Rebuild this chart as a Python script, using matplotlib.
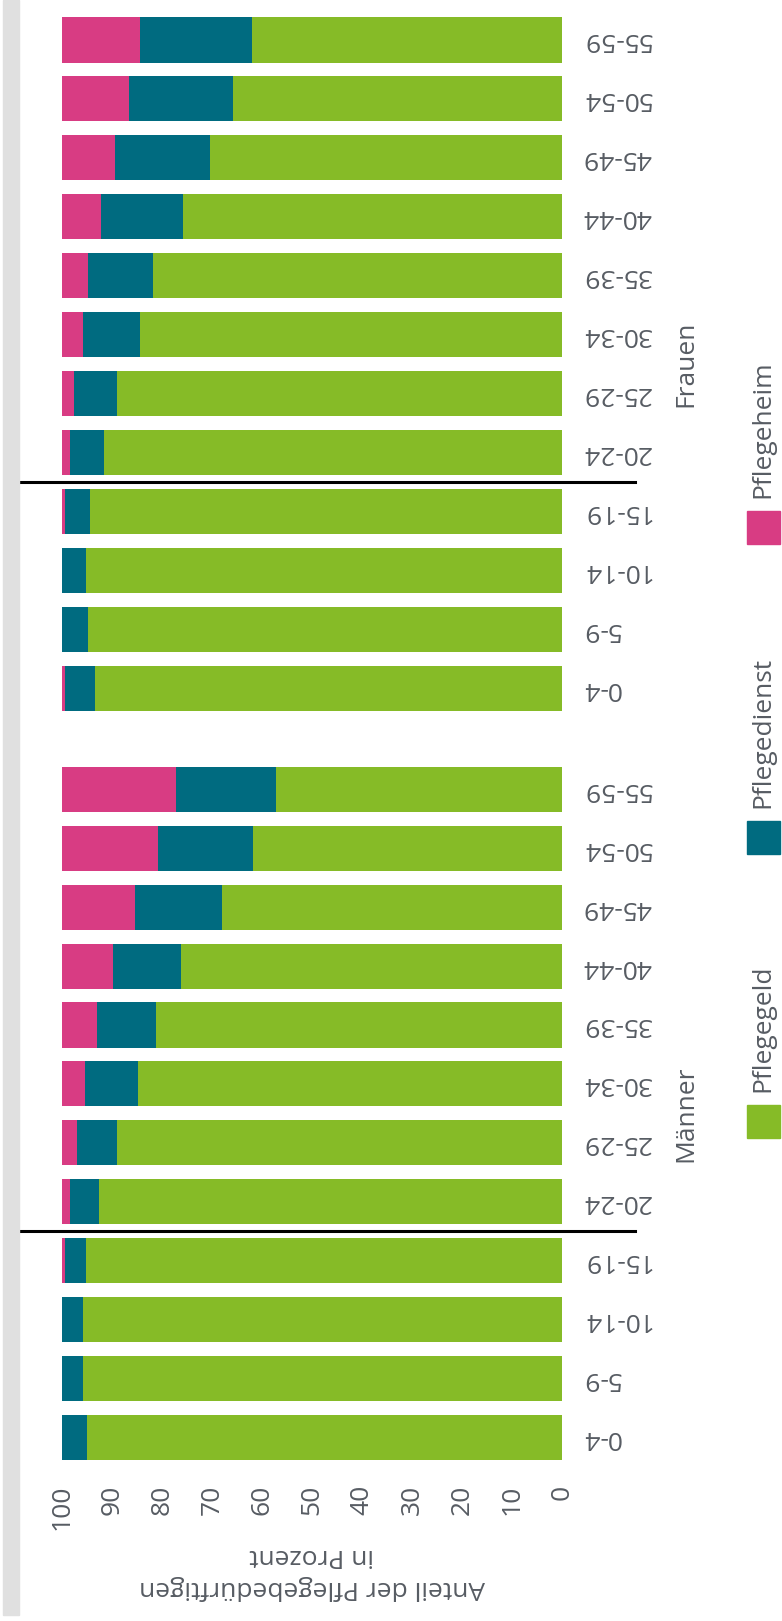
import numpy as np
import matplotlib
matplotlib.use("Agg")
from matplotlib import pyplot as plt
from matplotlib.patches import Rectangle
import matplotlib.transforms as mtransforms

plt.rcParams['font.family'] = ['Open Sans', 'DejaVu Sans']

# Altersgruppen, je Geschlecht
ages = ["0-4", "5-9", "10-14", "15-19", "20-24", "25-29", "30-34",
        "35-39", "40-44", "45-49", "50-54", "55-59"]

# Anteile in Prozent (Männer)
geld_m = [95.0, 95.9, 95.9, 95.3, 92.6, 89.0, 84.9, 81.3, 76.3, 68.1, 61.8, 57.3]
dienst_m = [5.0, 4.1, 4.1, 4.2, 5.9, 8.1, 10.4, 11.8, 13.6, 17.3, 19.1, 20.0]
heim_m = [0.0, 0.0, 0.0, 0.5, 1.5, 2.9, 4.7, 6.9, 10.1, 14.6, 19.1, 22.7]

# Anteile in Prozent (Frauen)
geld_f = [93.5, 94.9, 95.3, 94.5, 91.7, 89.0, 84.5, 81.8, 75.9, 70.4, 65.9, 62.1]
dienst_f = [6.0, 5.1, 4.7, 5.0, 6.8, 8.7, 11.4, 13.1, 16.3, 19.1, 20.8, 22.4]
heim_f = [0.5, 0.0, 0.0, 0.5, 1.5, 2.3, 4.1, 5.1, 7.8, 10.5, 13.3, 15.5]

groups = ["Männer", "Frauen"]
series = ["Pflegegeld", "Pflegedienst", "Pflegeheim"]
colors = ["#86bb27", "#006b80", "#d83c83"]
ticks = list(range(0, 101, 10))

txtcol = "#575c63"
fs = 19

W, H = 782, 1621
fig = plt.figure(figsize=(W / 100, H / 100), dpi=100)

# grauer Randstreifen links
fig.patches.append(Rectangle((3 / W, 1 - 1615 / H), 16 / W, 1615 / H,
                             transform=fig.transFigure, color="#e0e0e0", zorder=0))

ax_top, ax_bot = 10, 1470
ax = fig.add_axes([62 / W, 1 - ax_bot / H, 500 / W, (ax_bot - ax_top) / H])

gap = 1.715
pos_m = np.arange(len(ages))
pos_f = np.arange(len(ages)) + len(ages) + gap - 1
pos = np.concatenate([pos_m, pos_f])

geld = np.array(geld_m + geld_f)
dienst = np.array(dienst_m + dienst_f)
heim = np.array(heim_m + heim_f)

h = 0.765
ax.barh(pos, geld, height=h, color=colors[0], label=series[0])
ax.barh(pos, dienst, height=h, left=geld, color=colors[1], label=series[1])
ax.barh(pos, heim, height=h, left=geld + dienst, color=colors[2], label=series[2])

pitch = 58.93
ax.set_xlim(100, 0)
ax.set_ylim(-(ax_bot - 1437.5) / pitch, pos[-1] + (40 - ax_top) / pitch)

for s in ax.spines.values():
    s.set_visible(False)

ax.set_xticks(ticks)
ax.set_xticklabels([str(t) for t in ticks], rotation=90, fontsize=fs, color=txtcol)
ax.tick_params(axis="x", length=0, pad=10.5)
ax.set_yticks([])

btrans = mtransforms.blended_transform_factory(ax.transAxes, ax.transData)

# Altersgruppen rechts neben den Balken, auf dem Kopf stehend
for p, lab in zip(pos, ages + ages):
    ax.text(1.04, p, lab, rotation=180, rotation_mode="default",
            ha="left", va="center", fontsize=fs, color=txtcol, transform=btrans)

ax.set_xlabel("Anteil der Pflegebedürftigen\nin Prozent", rotation=180,
              fontsize=fs, color=txtcol, linespacing=1.35)
ax.xaxis.set_label_coords(0.5, -(1543 - ax_bot) / (ax_bot - ax_top))

# Trennlinien zwischen 15-19 und 20-24
for p in (pos_m[3] + 0.5, pos_f[3] + 0.5):
    ax.plot([-45 / 500, 573 / 500], [p, p], color="black", lw=2.2,
            transform=btrans, clip_on=False)

# Gruppenbeschriftung
for g, p in zip(groups, (pos_m, pos_f)):
    ax.text((686 - 62) / 500, p.mean(), g, rotation=90, ha="center", va="center",
            fontsize=fs, color=txtcol, transform=btrans)

# Legende, senkrecht am rechten Rand
sq = 33
leg_y = [1138, 854, 544]
for lab, col, yb in zip(series, colors, leg_y):
    fig.patches.append(Rectangle((747 / W, 1 - yb / H), sq / W, sq / H,
                                 transform=fig.transFigure, color=col))
    fig.text(750 / W, 1 - (yb - sq - 13) / H, lab, rotation=90, ha="left",
             va="bottom", fontsize=fs, color=txtcol)

fig.savefig("out.png", dpi=100)
